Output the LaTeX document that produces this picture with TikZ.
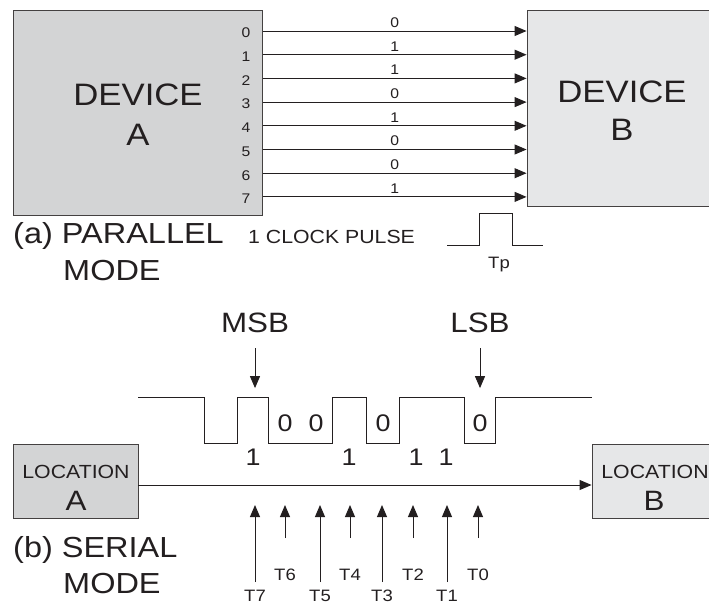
\documentclass[tikz,border=0pt]{standalone}
\usepackage{fontspec}
\setmainfont[FakeStretch=1.12]{Liberation Sans}
\usetikzlibrary{arrows.meta}

\definecolor{ink}{HTML}{231F20}
\definecolor{boxdark}{HTML}{D3D4D5}
\definecolor{boxlight}{HTML}{E6E7E8}
\newcommand{\fsz}[1]{\fontsize{#1}{#1}\selectfont}

\begin{document}
\begin{tikzpicture}[x=1pt, y=-1pt, >={Triangle[length=12pt,width=10pt]},
	every node/.style={text=ink, inner sep=0pt},
	devbox/.style={draw=ink!85, line width=0.9pt},
	sig/.style={draw=ink, line width=1pt},
	port/.style={font=\fsz{14}},
	bigtxt/.style={font=\fsz{31}, anchor=base},
	captxt/.style={font=\fsz{29}, anchor=base west},
	tlbl/.style={font=\fsz{16.5}, anchor=base}]
	\useasboundingbox (0,0) rectangle (709,603);

	% (a) parallel
	\node[devbox, fill=boxdark, minimum width=249pt, minimum height=205pt] (devA) at (137.5,112.5) {};
	\node[devbox, fill=boxlight, minimum width=186pt, minimum height=196pt] (devB) at (620,108) {};
	\node[bigtxt] (devAt) at (138,105) {DEVICE};
	\node[bigtxt] (devAl) at (138,145) {A};
	\node[bigtxt] (devBt) at (622,102) {DEVICE};
	\node[bigtxt] (devBl) at (622,140) {B};
	\foreach \i/\b in {0/0,1/1,2/1,3/0,4/1,5/0,6/0,7/1} {
		\pgfmathsetmacro{\py}{31+23.7*\i}
		\coordinate (p\i) at (263,\py);
		\node[port] (n\i) at (246,{\py+2}) {\i};
		\draw[sig,->] (p\i) -- (p\i -| devB.west) node[midway, above=3pt, port] (b\i) {\b};
	}
	\node[captxt] (capA) at (13,243) {(a) PARALLEL};
	\node[captxt] (capAm) at (63,280) {MODE};
	\node[font=\fsz{19}, anchor=base west] (clk) at (248,243) {1 CLOCK PULSE};
	\draw[sig] (447,245) -| (479,213) -| (512,245) -- (543,245);
	\node[font=\fsz{16.5}, anchor=base] (tp) at (499,268) {Tp};

	% (b) serial
	\node[font=\fsz{28}] (msb) at (255,323) {MSB};
	\node[font=\fsz{28}] (lsb) at (480,323) {LSB};
	\draw[sig,->] (msb.south) ++(0,15) -- ++(0,40);
	\draw[sig,->] (lsb.south) ++(0,15) -- ++(0,40);
	\draw[sig] (138,397) -| (204,443) -| (237,397) -| (268,443) -| (332,397)
		-| (366,443) -| (399,397) -| (464,443) -| (495,397) -- (592,397);
	\foreach \x/\v/\y [count=\k] in {285/0/423, 316/0/423, 383/0/423, 480/0/423,
		253/1/457, 349/1/457, 416/1/457, 446/1/457} {
		\node[font=\fsz{24}] (bit\k) at (\x,\y) {\v};
	}
	\node[devbox, fill=boxdark, minimum width=125pt, minimum height=74pt] (locA) at (75.5,481) {};
	\node[devbox, fill=boxlight, minimum width=126pt, minimum height=74pt] (locB) at (655,481) {};
	\node[font=\fsz{19}, anchor=base] (locAt) at (76,478) {LOCATION};
	\node[font=\fsz{28}, anchor=base] (locAl) at (76,510) {A};
	\node[font=\fsz{19}, anchor=base] (locBt) at (655,478) {LOCATION};
	\node[font=\fsz{28}, anchor=base] (locBl) at (654,510) {B};
	\draw[sig,->] (locA.east |- 0,485) -- (locB.west |- 0,485);
	\foreach \x/\t/\b/\l in {255/7/582/601, 285/6/538/580, 320/5/582/601, 350/4/538/580,
		382/3/582/601, 413/2/538/580, 447/1/582/601, 478/0/538/580} {
		\coordinate (tt\t) at (\x,505);
		\coordinate (tb\t) at (\x,\b);
		\draw[sig,->] (tb\t) -- (tt\t);
		\node[tlbl] (tl\t) at (\x,\l) {T\t};
	}
	\node[captxt] (capB) at (13,557) {(b) SERIAL};
	\node[captxt] (capBm) at (63,593) {MODE};
\end{tikzpicture}
\end{document}
